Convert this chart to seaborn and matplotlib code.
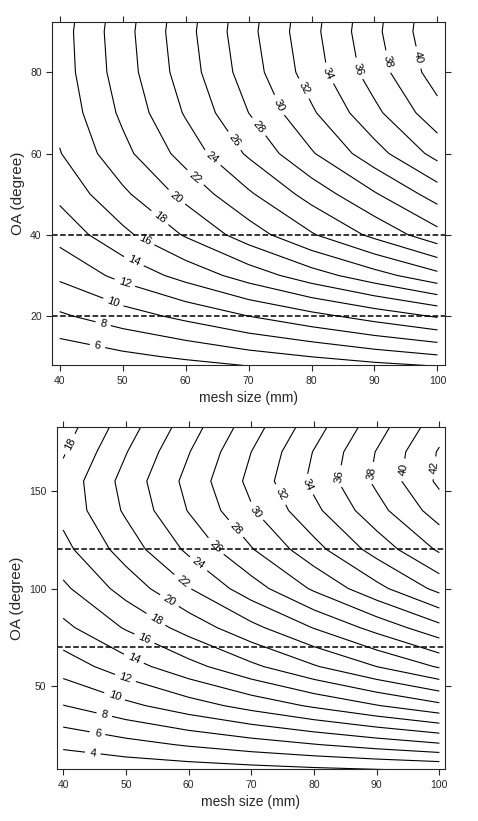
import numpy as np
import matplotlib
matplotlib.use("Agg")
import matplotlib.pyplot as plt
import seaborn as sns

sns.set_style("ticks")
plt.rcParams['font.family'] = ['Liberation Sans', 'DejaVu Sans']

mesh = [40, 50, 60, 70, 80, 90, 100]

# Top panel: values
oa_top = [7, 10, 20, 30, 40, 50, 60, 70, 80, 90, 93]
z_top = [
    [3.7, 4.3, 5.0, 5.6, 6.2, 6.9, 7.5],
    [4.6, 5.5, 6.3, 7.2, 8.0, 8.9, 9.7],
    [7.7, 9.1, 10.5, 12.0, 13.4, 14.8, 16.2],
    [10.4, 12.6, 14.7, 16.9, 19.1, 21.2, 23.4],
    [12.7, 15.5, 18.2, 21.0, 23.8, 26.5, 29.3],
    [14.5, 17.6, 20.6, 23.7, 26.8, 29.8, 32.9],
    [15.9, 19.4, 22.8, 26.3, 29.8, 33.2, 36.7],
    [16.6, 20.4, 24.2, 28.0, 31.7, 35.5, 39.3],
    [17.0, 21.0, 25.0, 29.0, 33.0, 37.0, 41.0],
    [17.1, 21.2, 25.3, 29.4, 33.4, 37.5, 41.6],
    [17.0, 21.1, 25.2, 29.3, 33.3, 37.4, 41.5],
]
levels_top = list(range(6, 41, 2))
dash_top = [20, 40]
label_pos_top = [(46.2, 14.3), (47, 18.8), (48.7, 24.2), (50.5, 29.1), (52, 34.3),
                 (53.8, 39.8), (55.9, 44.2), (58.4, 48.9), (61.4, 53.8), (64.3, 59),
                 (68, 63.4), (71.5, 66.4), (75, 72), (79.4, 76.5), (83.2, 80.2),
                 (88, 81), (93.3, 83), (98, 84)]

# Bottom panel
oa_bot = [5, 20, 40, 60, 80, 100, 120, 140, 155, 170, 185]
z_bot = [
    [2.0, 2.2, 2.4, 2.65, 2.9, 3.1, 3.3],
    [4.4, 5.3, 6.2, 7.05, 7.9, 8.8, 9.7],
    [7.95, 9.5, 11.1, 12.7, 14.3, 15.9, 17.5],
    [10.9, 13.1, 15.3, 17.55, 19.8, 22.0, 24.2],
    [13.5, 16.2, 18.8, 21.45, 24.1, 26.7, 29.4],
    [15.6, 18.8, 21.9, 25.1, 28.3, 31.4, 34.6],
    [17.4, 20.9, 24.4, 27.85, 31.3, 34.8, 38.3],
    [18.6, 22.3, 26.1, 29.8, 33.5, 37.3, 41.0],
    [18.7, 22.7, 26.6, 30.55, 34.5, 38.4, 42.4],
    [17.8, 21.9, 25.9, 30.0, 34.1, 38.1, 42.2],
    [16.9, 20.9, 24.9, 28.95, 33.0, 37.0, 41.0],
]
levels_bot = list(range(4, 43, 2))
dash_bot = [70, 120]
label_pos_bot = [(44.8, 18.2), (45.6, 28.5), (46.7, 37.7), (48.4, 46.9), (50.2, 56.7),
                 (51.5, 65.9), (53.2, 76.2), (55, 85.4), (57, 94.1), (59.3, 104.4),
                 (61.8, 113.6), (64.6, 122.3), (67.8, 131.5), (71, 140.3), (74.6, 148),
                 (79.4, 154), (84.5, 157), (89.3, 159), (94.2, 160.8), (99.3, 161.8),
                 (41.9, 172.6)]

fig = plt.figure(figsize=(4.78, 8.21), dpi=100)
ax1 = fig.add_axes([0.109, 0.555, 0.822, 0.418])
ax2 = fig.add_axes([0.119, 0.063, 0.812, 0.417])

def panel(ax, oa, z, levels, dashes, labpos, xlim, ylim, yticks):
    X, Y = np.meshgrid(mesh, oa)
    cs = ax.contour(X, Y, np.array(z), levels=levels, colors='black', linewidths=0.8)
    ax.clabel(cs, fmt='%d', fontsize=8, inline=True, manual=labpos)
    for d in dashes:
        ax.axhline(d, color='black', linestyle='--', linewidth=1.1)
    ax.set_xlim(*xlim)
    ax.set_ylim(*ylim)
    ax.set_xticks(mesh)
    ax.set_yticks(yticks)
    ax.tick_params(labelsize=7.5, direction='out', length=4, top=True, right=True,
                   labeltop=False, labelright=False)
    ax.set_xlabel('mesh size (mm)', fontsize=10)
    ax.set_ylabel('OA (degree)', fontsize=11)
    for s in ax.spines.values():
        s.set_linewidth(0.8)

panel(ax1, oa_top, z_top, levels_top, dash_top, label_pos_top,
      (38.8, 101.2), (7.9, 92.3), [20, 40, 60, 80])
panel(ax2, oa_bot, z_bot, levels_bot, dash_bot, label_pos_bot,
      (39.0, 100.9), (7.4, 182.8), [50, 100, 150])

fig.savefig('out.png', dpi=100)
